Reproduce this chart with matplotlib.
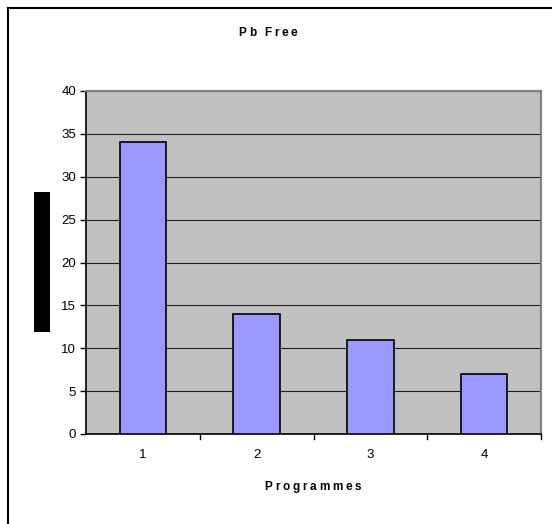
import matplotlib.pyplot as plt
from matplotlib.patches import Rectangle
from matplotlib.lines import Line2D

# Pb free counts per programme
programmes = ['1', '2', '3', '4']
counts = [34, 14, 11, 7]
y_ticks = [0, 5, 10, 15, 20, 25, 30, 35, 40]

plt.rcParams['font.family'] = ['Liberation Sans', 'DejaVu Sans']

W, H = 552, 524
fig = plt.figure(figsize=(W / 100, H / 100), dpi=100)
renderer = fig.canvas.get_renderer()


def spaced_text(cx, cy, s, size, spacing):
    # draw a bold title with extra letter spacing, centred at (cx, cy) in pixels
    widths = []
    for ch in s:
        t = fig.text(0, 0, ch if ch != ' ' else 'n', fontsize=size, fontweight='bold')
        w = t.get_window_extent(renderer).width
        if ch == ' ':
            w *= 0.3
        widths.append(w)
        t.remove()
    total = sum(widths) + spacing * (len(s) - 1)
    x = cx - total / 2
    for ch, w in zip(s, widths):
        if ch != ' ':
            fig.text(x / W, 1 - cy / H, ch, fontsize=size, fontweight='bold',
                     ha='left', va='center')
        x += w + spacing


# plot area in pixel coordinates
left, right, top, bottom = 86, 541, 91, 434
ax = fig.add_axes([left / W, 1 - bottom / H, (right - left) / W, (bottom - top) / H])
ax.set_facecolor('#C0C0C0')

x = list(range(len(programmes)))
ax.bar(x, counts, width=0.41, color='#9999FF', edgecolor='black', linewidth=1.2, zorder=3)

ax.set_xlim(-0.5, len(programmes) - 0.5)
ax.set_ylim(0, 40)
ax.set_yticks(y_ticks)
ax.set_yticklabels([str(v) for v in y_ticks], fontsize=9.5)
ax.set_xticks(x)
ax.set_xticklabels(programmes, fontsize=9.5)
ax.tick_params(axis='x', length=0, pad=11)
ax.tick_params(axis='y', length=4, width=1, pad=3)

# category separator ticks below the x axis
for b in [0.5, 1.5, 2.5, 3.5]:
    ax.plot([b, b], [0, -0.6], color='black', lw=1, clip_on=False, zorder=4)

ax.yaxis.grid(True, color='#202020', linewidth=0.8, zorder=1)
ax.set_axisbelow(True)

ax.spines['left'].set_color('black')
ax.spines['bottom'].set_color('black')
ax.spines['left'].set_linewidth(1.2)
ax.spines['bottom'].set_linewidth(1.2)
ax.spines['top'].set_color('#808080')
ax.spines['right'].set_color('#808080')
ax.spines['top'].set_linewidth(1.5)
ax.spines['right'].set_linewidth(1.5)

spaced_text(268, 33, 'Pb Free', 8.5, 2.8)
spaced_text(313, 487, 'Programmes', 8.5, 2.8)

# blacked-out y axis title
fig.patches.append(Rectangle((34 / W, 1 - 332 / H), 16 / W, 140 / H,
                             transform=fig.transFigure, facecolor='black',
                             edgecolor='none'))

# outer chart frame (top and left edges)
fig.lines.append(Line2D([8 / W, 8 / W], [0, 1 - 8 / H], transform=fig.transFigure,
                        color='black', lw=1.5))
fig.lines.append(Line2D([8 / W, 1], [1 - 8 / H, 1 - 8 / H], transform=fig.transFigure,
                        color='black', lw=1.5))

fig.savefig('out.png', dpi=100)
